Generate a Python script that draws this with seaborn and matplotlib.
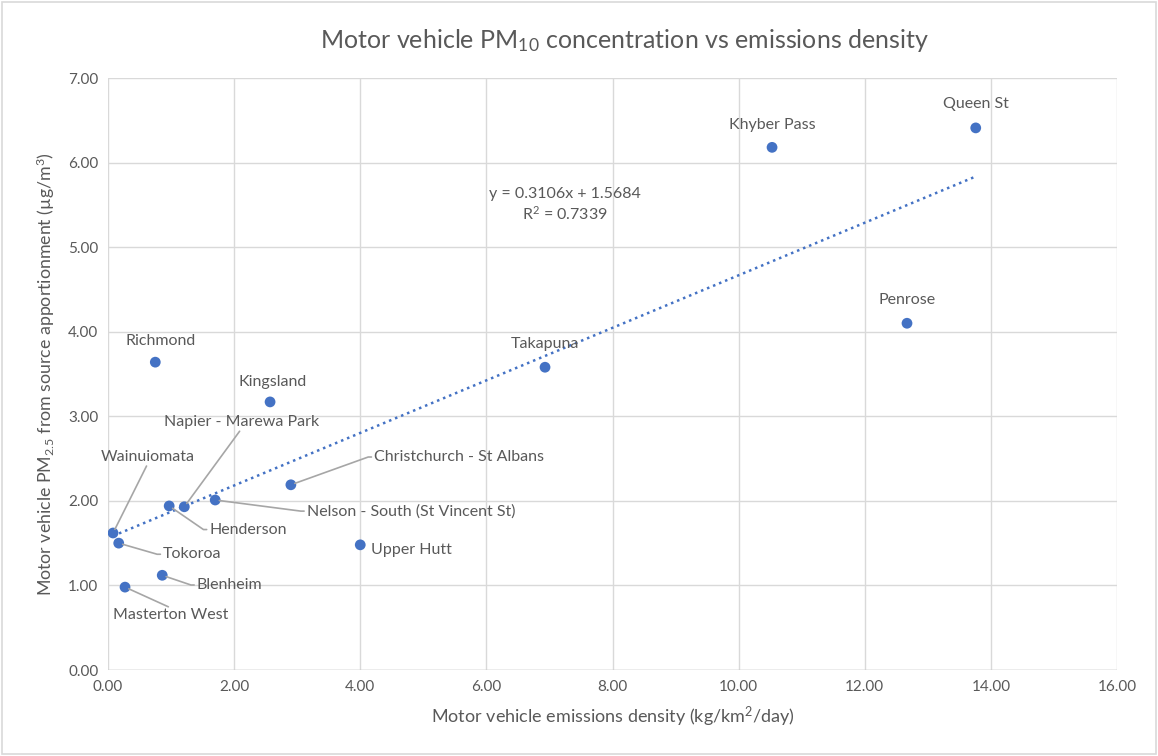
import matplotlib
matplotlib.use("Agg")
import matplotlib.pyplot as plt
from matplotlib.patches import Rectangle
import seaborn as sns
import pandas as pd
import numpy as np

# ---- data ----
sites = ["Queen St", "Khyber Pass", "Penrose", "Takapuna", "Richmond", "Kingsland",
         "Christchurch - St Albans", "Nelson - South (St Vincent St)", "Napier - Marewa Park",
         "Henderson", "Wainuiomata", "Tokoroa", "Upper Hutt", "Blenheim", "Masterton West"]
emissions = [13.76, 10.53, 12.67, 6.93, 0.75, 2.57, 2.90, 1.70, 1.21, 0.97, 0.08, 0.17, 4.00, 0.86, 0.27]
pm_conc = [6.41, 6.18, 4.10, 3.58, 3.64, 3.17, 2.19, 2.01, 1.93, 1.94, 1.62, 1.50, 1.48, 1.12, 0.98]
x_ticks = [0, 2, 4, 6, 8, 10, 12, 14, 16]
y_ticks = [0, 1, 2, 3, 4, 5, 6, 7]
equation_text = "y = 0.3106x + 1.5684\nR$^2$ = 0.7339"

df = pd.DataFrame({"site": sites, "emissions": emissions, "pm": pm_conc})

# ---- style ----
sns.set_theme(style="white")
FONT = ["Lato", "DejaVu Sans"]
plt.rcParams["font.family"] = FONT
plt.rcParams["mathtext.fontset"] = "custom"
plt.rcParams["mathtext.rm"] = "Lato"
plt.rcParams["mathtext.it"] = "Lato:italic"
plt.rcParams["mathtext.bf"] = "Lato:bold"

BLUE = "#4472C4"
TXT = "#595959"
GRID = "#d9d9d9"
LEAD = "#a6a6a6"

fig = plt.figure(figsize=(11.58, 7.56), dpi=100)
ax = fig.add_axes([108 / 1158, 1 - 670 / 756, (1117 - 108) / 1158, (670 - 78) / 756])

# border of chart area
fig.patches.append(Rectangle((0.002, 0.002), 0.996, 0.996, transform=fig.transFigure,
                             fill=False, edgecolor=GRID, lw=1.2))

sns.regplot(data=df, x="emissions", y="pm", ax=ax, scatter=False, ci=None, truncate=True,
            line_kws=dict(color=BLUE, ls=(0, (1, 1.6)), lw=1.8))
sns.scatterplot(data=df, x="emissions", y="pm", ax=ax, color=BLUE, s=60, edgecolor="none", zorder=3)

ax.set_xlim(0, 16)
ax.set_ylim(0, 7)
ax.set_xticks(x_ticks)
ax.set_yticks(y_ticks)
ax.set_xticklabels([f"{v:.2f}" for v in x_ticks])
ax.set_yticklabels([f"{v:.2f}" for v in y_ticks])
ax.tick_params(axis="both", length=0, labelsize=11, colors=TXT, pad=7)
ax.grid(True, color=GRID, lw=1)
for s in ax.spines.values():
    s.set_visible(False)
ax.axhline(0, color="#bfbfbf", lw=1, zorder=1)

ax.set_xlabel("Motor vehicle emissions density (kg/km$^2$/day)", fontsize=13, color=TXT, labelpad=8)
ax.set_ylabel("Motor vehicle PM$_{2.5}$ from source apportionment (\u00b5g/m$^3$)", fontsize=12.8,
              color=TXT, labelpad=8)
fig.text(624 / 1158, 1 - 41 / 756, "Motor vehicle PM$_{10}$ concentration vs emissions density",
         ha="center", va="center", fontsize=18, color=TXT)

ax.text(7.25, 5.50, equation_text, ha="center", va="center", fontsize=11.5, color=TXT,
        linespacing=1.3)

# labels: (offset in points, ha, va, leader)
label_layout = {
    "Queen St": ((0, 17), "center", "center", False),
    "Khyber Pass": ((0, 16), "center", "center", False),
    "Penrose": ((0, 17), "center", "center", False),
    "Takapuna": ((0, 17), "center", "center", False),
    "Richmond": ((4, 15), "center", "center", False),
    "Kingsland": ((2, 14), "center", "center", False),
    "Upper Hutt": ((8, -4), "left", "center", False),
    "Christchurch - St Albans": ((60, 20), "left", "center", True),
    "Nelson - South (St Vincent St)": ((66, -8), "left", "center", True),
    "Napier - Marewa Park": ((41, 56), "center", "bottom", True),
    "Wainuiomata": ((25, 50), "center", "bottom", True),
    "Henderson": ((29, -17), "left", "center", True),
    "Tokoroa": ((32, -8), "left", "center", True),
    "Blenheim": ((25, -7), "left", "center", True),
    "Masterton West": ((33, -15), "center", "top", True),
}

for site, xv, yv in zip(sites, emissions, pm_conc):
    off, ha, va, lead = label_layout[site]
    kw = {}
    if lead:
        if ha == "left":
            conn = "arc,angleA=180,armA=6,angleB=0,armB=0,rad=0"
            relpos = (0, 0.5)
        elif va == "bottom":
            conn = "arc3,rad=0"
            relpos = (0.5, 0)
        else:
            conn = "arc3,rad=0"
            relpos = (0.5, 1)
        kw["arrowprops"] = dict(arrowstyle="-", color=LEAD, lw=1.2, shrinkA=2, shrinkB=3,
                                connectionstyle=conn, relpos=relpos, patchA=None)
    ax.annotate(site, (xv, yv), xytext=off, textcoords="offset points", ha=ha, va=va,
                fontsize=11.5, color=TXT, **kw)

fig.savefig("out.png", dpi=100)
